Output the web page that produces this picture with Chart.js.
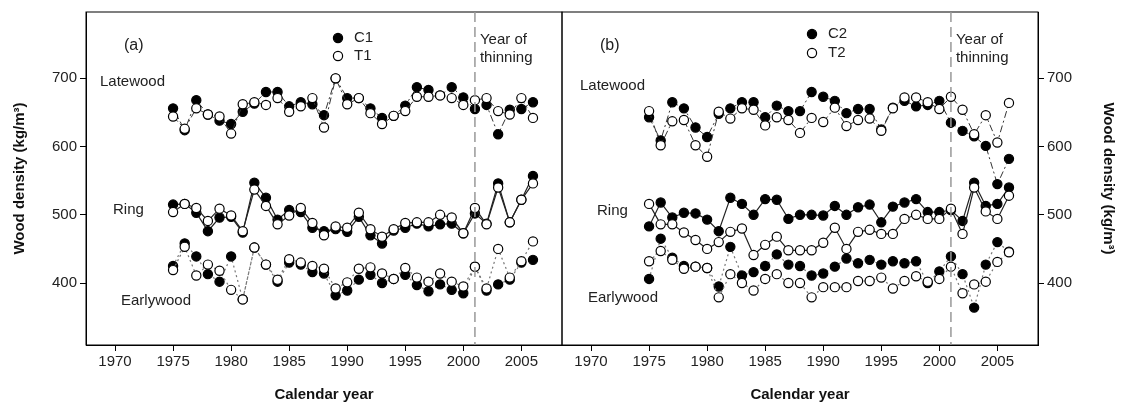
<!DOCTYPE html>
<html><head><meta charset="utf-8">
<script src="https://cdn.jsdelivr.net/npm/chart.js@4.4.0/dist/chart.umd.min.js"></script>
<style>
html,body{margin:0;padding:0;background:#fff;}
#wrap{position:relative;width:1127px;height:410px;background:#fff;}
canvas{position:absolute;left:0;top:0;}
</style></head><body>
<div id="wrap"><canvas id="ca" width="1127" height="410"></canvas><canvas id="cb" width="1127" height="410"></canvas></div>
<script>
const years = [1975,1976,1977,1978,1979,1980,1981,1982,1983,1984,1985,1986,1987,1988,1989,1990,1991,1992,1993,1994,1995,1996,1997,1998,1999,2000,2001,2002,2003,2004,2005,2006];
const xTicks = [1970,1975,1980,1985,1990,1995,2000,2005];
const yTicks = [400,500,600,700];
const thinningYear = 2001;

// Panel (a)
const c1Late = [656,624,668,647,638,633,651,663,680,680,659,665,662,646,700,671,671,656,642,645,660,687,683,675,687,672,655,661,618,654,655,665];
const t1Late = [644,626,656,647,644,619,662,665,661,671,651,659,671,628,700,662,671,649,633,645,652,673,673,675,671,661,668,671,652,647,671,642];
const c1Ring = [515,516,503,476,496,497,474,547,525,493,507,504,481,476,479,475,497,470,458,477,481,487,483,486,487,473,502,487,546,489,522,557];
const t1Ring = [504,516,510,491,509,499,476,537,513,486,499,510,488,470,483,481,503,479,468,479,488,489,489,500,496,473,510,486,540,489,522,546];
const c1Early = [425,458,439,413,402,439,376,452,427,402,430,427,416,414,382,389,405,412,400,406,412,397,388,398,390,385,424,389,398,405,430,434];
const t1Early = [419,453,411,427,418,390,376,452,427,405,435,430,425,421,392,401,421,423,414,406,422,408,402,414,402,395,424,392,450,408,432,461];

// Panel (b)
const c2Late = [643,609,665,656,628,614,648,656,665,665,643,660,652,652,680,673,667,649,655,655,625,657,667,659,661,667,635,623,615,601,545,582];
const t2Late = [652,602,637,639,602,585,651,641,656,654,631,643,639,620,642,636,657,630,639,641,623,656,672,672,665,655,673,654,618,646,606,664];
const c2Ring = [483,518,496,503,502,493,476,525,516,500,523,522,494,500,500,499,513,500,511,515,489,512,518,523,504,504,507,491,547,513,516,540];
const t2Ring = [516,486,486,474,463,450,460,475,480,441,456,468,448,448,448,459,481,450,475,478,472,472,494,500,494,494,509,472,540,505,494,528];
const c2Early = [406,465,437,425,424,422,395,453,411,416,425,442,427,425,411,414,424,436,429,434,427,432,429,432,400,417,439,413,364,427,460,446];
const t2Early = [432,447,434,421,424,422,379,413,400,389,406,413,400,400,379,394,394,394,403,403,408,392,403,410,402,406,424,385,398,402,431,445];

const W = 1127, H = 410;
const L = 86, M = 562, R = 1038, TOP = 5, BOT = 345;
const X_MIN = 1967.5, X_MAX = 2008.5, Y_MIN = 309.2, Y_MAX = 797.2;
const FONT = "'Liberation Sans', Arial, sans-serif";

const pts = arr => arr.map((v, i) => ({x: years[i], y: v}));
const lineStyles = {
  late: {dash: [7, 3, 2, 3], color: '#333', width: 1},
  ring: {dash: [], color: '#222', width: 1.2},
  early: {dash: [2, 3], color: '#777', width: 1.2}
};
function ds(arr, kind, filled) {
  const s = lineStyles[kind];
  return {
    data: pts(arr), borderColor: s.color, borderWidth: s.width, borderDash: s.dash,
    pointRadius: 4.6, pointBorderWidth: 1.2, pointBorderColor: '#000',
    pointBackgroundColor: filled ? '#000' : '#fff', showLine: true, tension: 0, fill: false
  };
}

const decoPlugin = {
  id: 'deco',
  afterDraw(chart, args, o) {
    const ctx = chart.ctx, a = chart.chartArea;
    const xs = chart.scales.x;
    ctx.save();
    ctx.strokeStyle = '#000'; ctx.lineWidth = 1; ctx.setLineDash([]);
    ctx.strokeRect(a.left, a.top, a.right - a.left, a.bottom - a.top);
    const tx = xs.getPixelForValue(thinningYear);
    ctx.strokeStyle = '#999'; ctx.lineWidth = 1.5; ctx.setLineDash([10, 5]);
    ctx.beginPath(); ctx.moveTo(tx, a.top); ctx.lineTo(tx, a.bottom); ctx.stroke();
    ctx.setLineDash([]);
    ctx.fillStyle = '#222'; ctx.font = '15px ' + FONT; ctx.textBaseline = 'middle'; ctx.textAlign = 'left';
    ctx.fillText('Year of', tx + 5, o.thinY1);
    ctx.fillText('thinning', tx + 5, o.thinY2);
    ctx.font = '16px ' + FONT;
    ctx.fillText(o.tag, o.tagX, o.tagY);
    ctx.font = '15px ' + FONT;
    o.labels.forEach(l => ctx.fillText(l[0], l[1], l[2]));
    o.legend.forEach(l => {
      ctx.beginPath(); ctx.arc(l[1], l[2], 4.6, 0, Math.PI * 2);
      ctx.fillStyle = l[3] ? '#000' : '#fff'; ctx.fill();
      ctx.strokeStyle = '#000'; ctx.lineWidth = 1.2; ctx.stroke();
      ctx.fillStyle = '#222'; ctx.font = '15px ' + FONT;
      ctx.fillText(l[0], l[1] + 16, l[2]);
    });
    ctx.font = 'bold 15px ' + FONT; ctx.textAlign = 'center'; ctx.fillStyle = '#111';
    ctx.fillText('Calendar year', (a.left + a.right) / 2, o.xTitleY);
    ctx.save();
    ctx.translate(o.yTitleX, (a.top + a.bottom) / 2);
    ctx.rotate(o.yTitleRot);
    ctx.fillText('Wood density (kg/m³)', 0, 0);
    ctx.restore();
    ctx.restore();
  }
};

function makeChart(id, sets, side, deco) {
  const leftPad = side === 'left' ? 0 : M;
  const rightPad = side === 'left' ? W - M : 0;
  return new Chart(document.getElementById(id), {
    type: 'line',
    data: {datasets: sets},
    options: {
      responsive: false, animation: false, devicePixelRatio: 1,
      layout: {padding: {left: leftPad, right: rightPad, top: TOP, bottom: 0}},
      plugins: {legend: {display: false}, tooltip: {enabled: false}, deco: deco},
      scales: {
        x: {
          type: 'linear', min: X_MIN, max: X_MAX,
          afterBuildTicks: s => { s.ticks = xTicks.map(v => ({value: v})); },
          afterFit: s => { s.height = H - BOT; },
          grid: {drawOnChartArea: false, drawTicks: true, tickLength: 6, color: '#000'},
          border: {display: true, color: '#000'},
          ticks: {font: {family: FONT, size: 15}, color: '#222', padding: 2, maxRotation: 0, callback: v => String(v)}
        },
        y: {
          type: 'linear', position: side, min: Y_MIN, max: Y_MAX,
          afterBuildTicks: s => { s.ticks = yTicks.map(v => ({value: v})); },
          afterFit: s => { s.width = side === 'left' ? L : W - R; },
          grid: {drawOnChartArea: false, drawTicks: true, tickLength: 6, color: '#000'},
          border: {display: true, color: '#000'},
          ticks: {font: {family: FONT, size: 15}, color: '#222', padding: 3}
        }
      }
    },
    plugins: [decoPlugin]
  });
}

makeChart('ca', [
  ds(t1Late, 'late', false), ds(t1Ring, 'ring', false), ds(t1Early, 'early', false),
  ds(c1Late, 'late', true), ds(c1Ring, 'ring', true), ds(c1Early, 'early', true)
], 'left', {
  tag: '(a)', tagX: 124, tagY: 46, thinY1: 40, thinY2: 58,
  labels: [['Latewood', 100, 82], ['Ring', 113, 210], ['Earlywood', 121, 301]],
  legend: [['C1', 338, 38, true], ['T1', 338, 56, false]],
  xTitleY: 395, yTitleX: 20, yTitleRot: -Math.PI / 2
});
makeChart('cb', [
  ds(t2Late, 'late', false), ds(t2Ring, 'ring', false), ds(t2Early, 'early', false),
  ds(c2Late, 'late', true), ds(c2Ring, 'ring', true), ds(c2Early, 'early', true)
], 'right', {
  tag: '(b)', tagX: 600, tagY: 46, thinY1: 40, thinY2: 58,
  labels: [['Latewood', 580, 86], ['Ring', 597, 211], ['Earlywood', 588, 298]],
  legend: [['C2', 812, 34, true], ['T2', 812, 53, false]],
  xTitleY: 395, yTitleX: 1108, yTitleRot: Math.PI / 2
});
</script>
</body></html>
